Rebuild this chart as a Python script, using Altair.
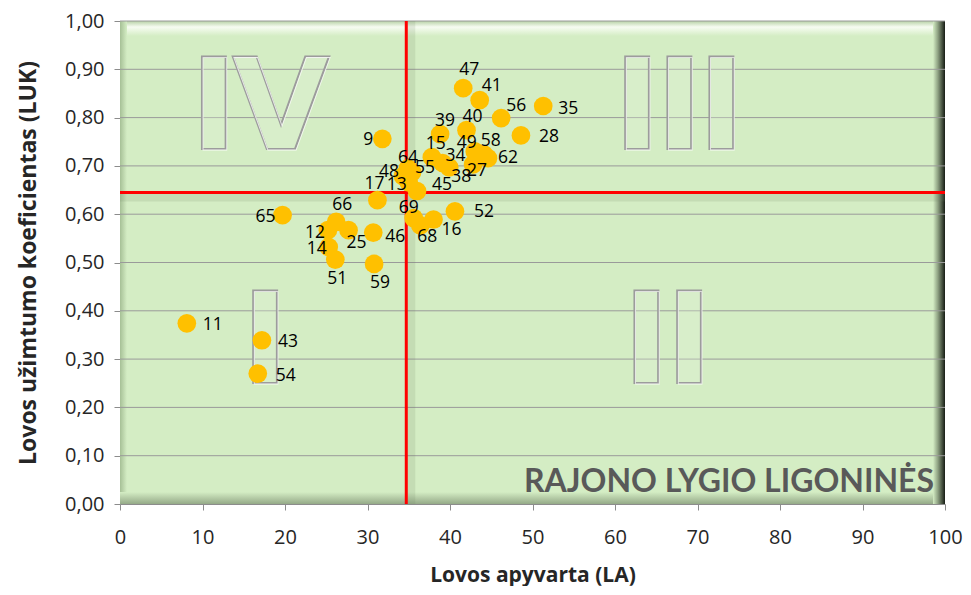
import altair as alt
import pandas as pd

# ---------------- data ----------------
HOSPITALS = ["47", "41", "56", "35", "28", "9", "39", "40", "15", "49", "58", "62",
             "34", "27", "38", "45", "55", "64", "48", "17", "13", "69", "65", "66",
             "12", "25", "46", "14", "51", "59", "68", "16", "52", "11", "43", "54"]
LA = [41.6, 43.6, 46.2, 51.3, 48.6, 31.8, 38.8, 42.0, 37.8, 43.0, 44.1, 44.6,
      39.1, 42.8, 39.9, 36.0, 35.4, 34.9, 34.3, 31.2, 35.0, 35.6, 19.7, 26.2,
      25.2, 27.7, 30.7, 25.3, 26.1, 30.8, 36.4, 38.0, 40.6, 8.1, 17.2, 16.7]
LUK = [0.861, 0.836, 0.799, 0.824, 0.763, 0.756, 0.766, 0.774, 0.718, 0.730, 0.724, 0.716,
       0.706, 0.703, 0.697, 0.648, 0.687, 0.695, 0.679, 0.629, 0.666, 0.592, 0.598, 0.584,
       0.567, 0.567, 0.562, 0.532, 0.506, 0.497, 0.577, 0.589, 0.606, 0.374, 0.339, 0.270]
LA_LIMIT = 34.7
LUK_LIMIT = 0.645
X_TICKS = list(range(0, 101, 10))
Y_TICKS = [round(i * 0.1, 1) for i in range(0, 11)]

X_TITLE = "Lovos apyvarta (LA)"
Y_TITLE = "Lovos užimtumo koeficientas (LUK)"
PANEL_TEXT = "RAJONO LYGIO LIGONINĖS"

# ---------------- layout / style ----------------
W, H = 825, 483
PX_X = W / 100.0
PX_Y = H / 1.0

# label placement (pixel offsets of the label centre from its point)
LABEL_OFFSETS = {
    "47": (6, -18), "41": (12, -14), "56": (15, -12), "35": (25, 3), "28": (28, 2),
    "9": (-14, 1), "39": (5, -13), "40": (6, -13), "15": (4, -13), "49": (-8, -8),
    "58": (7, -13), "62": (20, 0), "34": (13, -7), "27": (4, 7), "38": (12, 10),
    "45": (25, -6), "55": (13, -4), "64": (0, -10), "48": (-14, -4), "17": (-3, -16),
    "13": (-12, 3), "69": (-5, -10), "65": (-17, 2), "66": (6, -17), "12": (-13, 3),
    "25": (8, 13), "46": (22, 4), "14": (-12, 2), "51": (2, 19), "59": (6, 19),
    "68": (7, 12), "16": (18, 10), "52": (29, 1), "11": (26, 2), "43": (26, 2),
    "54": (28, 2),
}

# quadrant numerals drawn as outlined glyphs (glyph, x centre, baseline y) in data units
NUMERAL_GLYPHS = [("I", 11.4, 0.7345), ("V", 19.5, 0.7345),
                  ("I", 62.7, 0.7345), ("I", 67.8, 0.7345), ("I", 72.9, 0.7345),
                  ("I", 17.6, 0.2504),
                  ("I", 63.8, 0.2504), ("I", 69.0, 0.2504)]

GREEN = "#D4EDC4"

df = pd.DataFrame({"id": HOSPITALS, "x": LA, "y": LUK})
df["lx"] = df["x"] + df["id"].map(lambda k: LABEL_OFFSETS[k][0]) / PX_X
df["ly"] = df["y"] - df["id"].map(lambda k: LABEL_OFFSETS[k][1]) / PX_Y

xs = alt.Scale(domain=[0, 100], nice=False, zero=False)
ys = alt.Scale(domain=[0, 1], nice=False)

X_AXIS = alt.Axis(values=X_TICKS, format="d", labelBaseline="middle",
                  labelPadding=27, labelFlush=False, titleX=W / 2, titleY=71,
                  titleBaseline="middle", titleAnchor="middle")
Y_AXIS = alt.Axis(values=Y_TICKS, labelPadding=10, labelFlush=False,
                  labelExpr="replace(format(datum.value, '.2f'), '.', ',')",
                  titleX=-92, titleY=H / 2, titleAngle=-90,
                  titleBaseline="middle", titleAlign="center")


def X(field):
    return alt.X(field, scale=xs, axis=X_AXIS, title=X_TITLE)


def Y(field):
    return alt.Y(field, scale=ys, axis=Y_AXIS, title=Y_TITLE)


one = pd.DataFrame({"a": [0]})


def grad(stops, horizontal):
    return alt.LinearGradient(
        gradient="linear",
        stops=[alt.GradientStop(offset=o, color=c) for o, c in stops],
        x1=0, y1=0, x2=1 if horizontal else 0, y2=0 if horizontal else 1,
    )


bevel_top = alt.Chart(one).mark_rect(
    color=grad([(0, "#B8D2A7"), (0.4, "#F7FCF2"), (1, GREEN)], False)
).encode(x=alt.value(0), x2=alt.value(W), y=alt.value(0), y2=alt.value(15))
bevel_left = alt.Chart(one).mark_rect(
    color=grad([(0, "#A6C096"), (1, GREEN)], True)
).encode(x=alt.value(0), x2=alt.value(7), y=alt.value(0), y2=alt.value(H))
bevel_bottom = alt.Chart(one).mark_rect(
    color=grad([(0, GREEN), (1, "#95AA88")], False)
).encode(x=alt.value(0), x2=alt.value(W), y=alt.value(H - 12), y2=alt.value(H))
bevel_right = alt.Chart(one).mark_rect(
    color=grad([(0, GREEN), (0.4, "#8FA283"), (1, "#161C14")], True)
).encode(x=alt.value(W - 12), x2=alt.value(W), y=alt.value(0), y2=alt.value(H))

grid = alt.Chart(pd.DataFrame({"t": Y_TICKS[1:]})).mark_rule(
    color="#9A9A9A", strokeWidth=1
).encode(y=Y("t:Q"))

ndf = pd.DataFrame(NUMERAL_GLYPHS, columns=["g", "nx", "ny"])
numerals = alt.Chart(ndf).mark_text(
    font="DejaVu Sans", fontWeight="bold", fontSize=126, align="center",
    baseline="alphabetic", fill="#E2F3D8", fillOpacity=0.3, stroke="#9C9C9C",
    strokeWidth=2.2
).encode(x=X("nx:Q"), y=Y("ny:Q"), text="g:N")
numerals_hi = alt.Chart(ndf).mark_text(
    font="DejaVu Sans", fontWeight="bold", fontSize=126, align="center",
    baseline="alphabetic", fillOpacity=0, stroke="#FFFFFF", strokeWidth=0.8,
    strokeOpacity=0.8, dx=1, dy=1
).encode(x=X("nx:Q"), y=Y("ny:Q"), text="g:N")

vdf = pd.DataFrame({"v": [LA_LIMIT]})
hdf = pd.DataFrame({"h": [LUK_LIMIT]})
vshadow = alt.Chart(vdf).mark_rule(color="#6E8060", opacity=0.15, strokeWidth=8,
                                   xOffset=5).encode(x=X("v:Q"))
hshadow = alt.Chart(hdf).mark_rule(color="#6E8060", opacity=0.15, strokeWidth=8,
                                   yOffset=5).encode(y=Y("h:Q"))
vline = alt.Chart(vdf).mark_rule(color="#FF0000", strokeWidth=3).encode(x=X("v:Q"))
hline = alt.Chart(hdf).mark_rule(color="#FF0000", strokeWidth=3).encode(y=Y("h:Q"))

points = alt.Chart(df).mark_circle(size=350, color="#FFC000", opacity=1).encode(
    x=X("x:Q"), y=Y("y:Q"))

labels = alt.Chart(df).mark_text(
    font="Open Sans", fontSize=17.5, color="#000000", align="center", baseline="middle"
).encode(x=X("lx:Q"), y=Y("ly:Q"), text="id:N")

panel = alt.Chart(one).mark_text(
    text=PANEL_TEXT, font="Lato", fontWeight="bold", fontSize=32, color="#595959",
    align="right", baseline="alphabetic"
).encode(x=alt.value(W - 11), y=alt.value(H - 12))

chart = alt.layer(
    bevel_top, bevel_left, bevel_bottom, bevel_right, grid, numerals, numerals_hi,
    vshadow, hshadow, vline, hline, points, labels, panel
).properties(
    width=W, height=H,
    autosize=alt.AutoSizeParams(type="none"),
    padding={"left": 112, "top": 13, "right": 18, "bottom": 82},
).configure_view(
    fill=GREEN, stroke=None
).configure_axis(
    labelFont="Open Sans", labelFontSize=20, labelColor="#262626",
    titleFont="Open Sans", titleFontWeight="bold", titleColor="#262626",
    domainColor="#8C8C8C", tickColor="#8C8C8C", tickSize=6, grid=False
).configure_axisX(
    titleFontSize=21
).configure_axisY(
    titleFontSize=23
)

chart.save("out.html", embed_options={"renderer": "svg", "actions": False})
